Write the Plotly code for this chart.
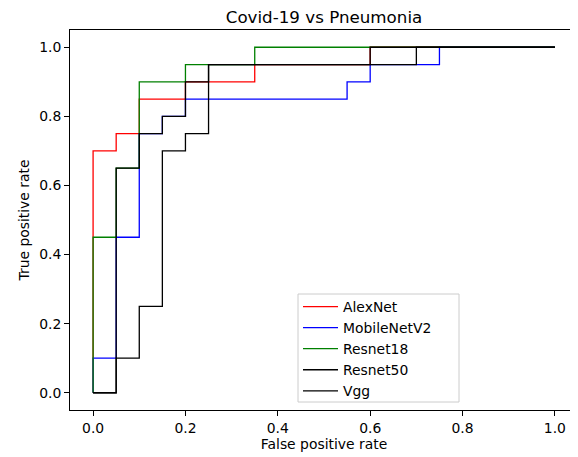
import plotly.graph_objects as go

names = ["AlexNet", "MobileNetV2", "Resnet18", "Resnet50", "Vgg"]
colors = ["#ff0000", "#0000ff", "#008000", "#000000", "#000000"]

alexnet_fpr = [0.0, 0.0, 0.05, 0.05, 0.1, 0.1, 0.2, 0.2, 0.35, 0.35, 0.6, 0.6, 1.0]
alexnet_tpr = [0.0, 0.7, 0.7, 0.75, 0.75, 0.85, 0.85, 0.9, 0.9, 0.95, 0.95, 1.0, 1.0]

mobilenet_fpr = [0.0, 0.0, 0.05, 0.05, 0.1, 0.1, 0.15, 0.15, 0.2, 0.2, 0.55, 0.55, 0.6, 0.6, 0.75, 0.75, 1.0]
mobilenet_tpr = [0.0, 0.1, 0.1, 0.45, 0.45, 0.75, 0.75, 0.8, 0.8, 0.85, 0.85, 0.9, 0.9, 0.95, 0.95, 1.0, 1.0]

resnet18_fpr = [0.0, 0.0, 0.05, 0.05, 0.1, 0.1, 0.2, 0.2, 0.35, 0.35, 1.0]
resnet18_tpr = [0.0, 0.45, 0.45, 0.65, 0.65, 0.9, 0.9, 0.95, 0.95, 1.0, 1.0]

resnet50_fpr = [0.0, 0.05, 0.05, 0.1, 0.1, 0.15, 0.15, 0.2, 0.2, 0.25, 0.25, 0.6, 0.6, 1.0]
resnet50_tpr = [0.0, 0.0, 0.65, 0.65, 0.75, 0.75, 0.8, 0.8, 0.9, 0.9, 0.95, 0.95, 1.0, 1.0]

vgg_fpr = [0.0, 0.05, 0.05, 0.1, 0.1, 0.15, 0.15, 0.2, 0.2, 0.25, 0.25, 0.7, 0.7, 1.0]
vgg_tpr = [0.0, 0.0, 0.1, 0.1, 0.25, 0.25, 0.7, 0.7, 0.75, 0.75, 0.95, 0.95, 1.0, 1.0]

series = [
    (alexnet_fpr, alexnet_tpr),
    (mobilenet_fpr, mobilenet_tpr),
    (resnet18_fpr, resnet18_tpr),
    (resnet50_fpr, resnet50_tpr),
    (vgg_fpr, vgg_tpr),
]

tick_vals = [0.0, 0.2, 0.4, 0.6, 0.8, 1.0]
tick_text = ["0.0", "0.2", "0.4", "0.6", "0.8", "1.0"]

FONT = "DejaVu Sans"
# the page body adds an 8px offset; margins compensate for it
L, R, T, B = 62, 8, 22, 55
PW, PH = 578 - L - R, 457 - T - B

fig = go.Figure()
for name, color, (fx, ty) in zip(names, colors, series):
    fig.add_trace(go.Scatter(x=fx, y=ty, mode="lines", name=name,
                             line=dict(color=color, width=1.3)))

axis_common = dict(
    showline=True, mirror=True, linecolor="black", linewidth=1,
    ticks="outside", ticklen=5, tickwidth=1, tickcolor="black",
    showgrid=False, zeroline=False, automargin=False,
    tickvals=tick_vals, ticktext=tick_text,
    tickfont=dict(family=FONT, size=13.9, color="black"),
)

# legend frame (matplotlib-style box), in paper coordinates
bx0, bx1 = (290 - L) / PW, (451 - L) / PW
by0, by1 = (457 - B - 394) / PH, (457 - B - 286) / PH

fig.update_layout(
    width=578, height=457,
    margin=dict(l=L, r=R, t=T, b=B),
    paper_bgcolor="white", plot_bgcolor="white",
    font=dict(family=FONT, size=13.9, color="black"),
    title=dict(text="Covid-19 vs Pneumonia", x=(L + 578 - R) / 2 / 578, xanchor="center",
               y=1 - 9.5 / 457, yanchor="middle", yref="container",
               font=dict(family=FONT, size=16.7, color="black")),
    xaxis=dict(range=[-0.05, 1.05], title=dict(text="False positive rate", standoff=2,
               font=dict(family=FONT, size=13.9, color="black")), **axis_common),
    yaxis=dict(range=[-0.05, 1.05], title=dict(text="True positive rate", standoff=6,
               font=dict(family=FONT, size=13.9, color="black")), **axis_common),
    shapes=[dict(type="rect", xref="paper", yref="paper", x0=bx0, x1=bx1, y0=by0, y1=by1,
                 line=dict(color="#cccccc", width=1), fillcolor="rgba(255,255,255,0.8)",
                 layer="above")],
    showlegend=True,
    legend=dict(x=(290 - L) / PW, y=3 / PH, xanchor="left", yanchor="bottom",
                bgcolor="rgba(0,0,0,0)", borderwidth=0,
                font=dict(family=FONT, size=13.9, color="black"),
                itemwidth=35, tracegroupgap=0),
)

fig.write_html("out.html")
